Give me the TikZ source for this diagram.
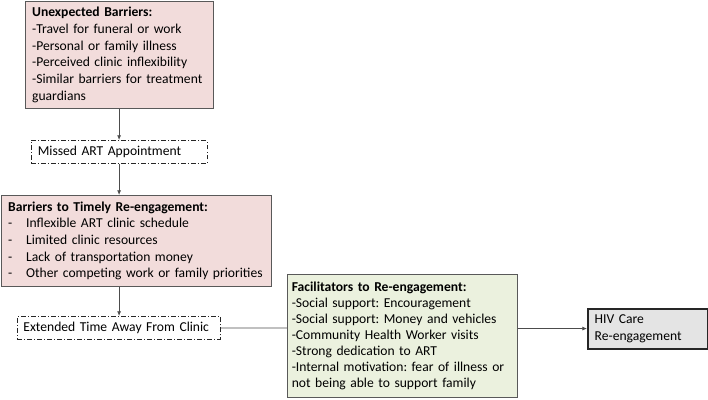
\documentclass[tikz,border=0pt]{standalone}
\usepackage{fontspec}
\setmainfont{Carlito}
\usetikzlibrary{arrows.meta,backgrounds}

\definecolor{barrierfill}{HTML}{F2DCDB}
\definecolor{facilfill}{HTML}{EBF1DE}
\definecolor{outcomefill}{HTML}{E4E4E4}
\definecolor{boxline}{HTML}{595959}

\tikzset{every picture/.style={line width=0.75pt}}
\tikzset{
  txt/.style={font=\fontsize{10.2}{12.5}\selectfont, align=left, anchor=north west, inner xsep=5pt, inner ysep=2pt},
  barrier/.style={txt, draw=boxline, fill=barrierfill},
  facilbox/.style={txt, draw=boxline, fill=facilfill},
  stepbox/.style={txt, draw=black!85, line width=0.6pt, dash pattern=on 3.5pt off 1.6pt on 0.8pt off 1.6pt},
  outcome/.style={txt, draw=black!85, line width=1.6pt, fill=outcomefill},
  link/.style={draw=black!70, line width=0.6pt},
  tip/.style={-{Latex[length=3.5pt,width=3pt]}}
}
\newcommand{\dashitem}[1]{\makebox[13.5pt][l]{-}#1}

\begin{document}
\frenchspacing
\begin{tikzpicture}[x=0.75pt,y=0.75pt,yscale=-1,xscale=1]
\path[use as bounding box] (0,0) rectangle (708,400);

% Boxes down the left side
\node [barrier, text width=131pt, minimum height=80.25pt] (unexp) at (25,1)
  {\textbf{Unexpected Barriers:}\\
   -Travel for funeral or work\\
   -Personal or family illness\\
   -Perceived clinic inflexibility\\
   -Similar barriers for treatment\\
   guardians};
\node [stepbox, text width=122pt, minimum height=17.25pt] (missed) at (30.7,140)
  {Missed ART Appointment};
\node [barrier, text width=192.5pt, minimum height=68.25pt] (timely) at (1,195)
  {\textbf{Barriers to Timely Re-engagement:}\\
   \dashitem{Inflexible ART clinic schedule}\\
   \dashitem{Limited clinic resources}\\
   \dashitem{Lack of transportation money}\\
   \dashitem{Other competing work or family priorities}};
\node [stepbox, inner xsep=4.5pt, text width=143pt, minimum height=17.25pt] (away) at (17,316)
  {Extended Time Away From Clinic};

% Facilitators and outcome
\node [facilbox, font=\fontsize{10.2}{11.9}\selectfont, inner xsep=3.25pt, text width=166pt, minimum height=92pt] (facil) at (287,274)
  {\textbf{Facilitators to Re-engagement:}\\
   -Social support: Encouragement\\
   -Social support: Money and vehicles\\
   -Community Health Worker visits\\
   -Strong dedication to ART\\
   -Internal motivation: fear of illness or\\
   not being able to support family};
\node [outcome, text width=80pt, minimum height=30pt] (reengage) at (587,307.5)
  {HIV Care\\Re-engagement};

% Connectors
\draw [link, tip] (unexp.south -| missed.north) -- (missed.north);
\draw [link, tip] (missed.south) -- (missed.south |- timely.north);
\draw [link, tip] (missed.south |- timely.south) -- (missed.south |- away.north);
\begin{scope}[on background layer]
\draw [link, tip] (away.east) -- (reengage.west);
\end{scope}

\end{tikzpicture}
\end{document}
